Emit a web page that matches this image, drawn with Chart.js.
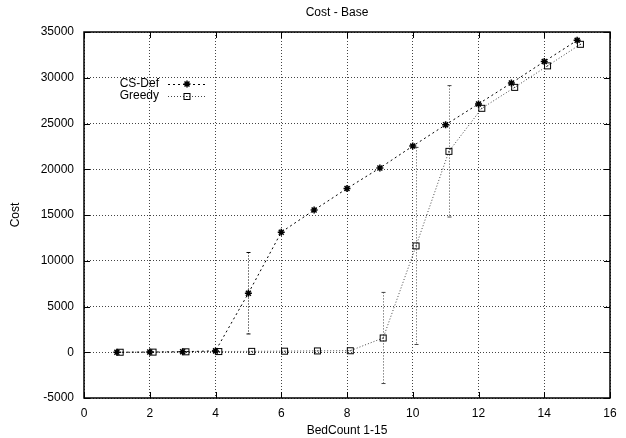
<!DOCTYPE html>
<html>
<head>
<meta charset="utf-8">
<script src="https://cdn.jsdelivr.net/npm/chart.js@4.4.0/dist/chart.umd.min.js"></script>
<style>
	html, body { margin: 0; padding: 0; background: #fff; }
</style>
</head>
<body>
<canvas id="chart" width="626" height="438"></canvas>
<script>
// data
const bedCounts = [1, 2, 3, 4, 5, 6, 7, 8, 9, 10, 11, 12, 13, 14, 15];
const greedyX = [1.1, 2.1, 3.1, 4.1, 5.1, 6.1, 7.1, 8.1, 9.1, 10.1, 11.1, 12.1, 13.1, 14.1, 15.1];
const csDefCost = [0, 20, 60, 150, 6450, 13120, 15540, 17900, 20140, 22530, 24860, 27140, 29420, 31770, 34090];
const csDefErr = [0, 0, 0, 0, 4450, 0, 0, 0, 0, 0, 0, 0, 0, 0, 0];
const greedyCost = [0, 20, 50, 80, 100, 120, 150, 170, 1560, 11620, 21960, 26660, 28950, 31300, 33660];
const greedyErr = [0, 0, 0, 0, 0, 0, 0, 0, 4980, 10770, 7180, 0, 0, 0, 0];

const FONT = { family: '"Liberation Sans", Arial, sans-serif', size: 12 };

// square with a dot in the middle (gnuplot point type 4-ish)
const boxPoint = (() => {
	const c = document.createElement('canvas');
	c.width = 9;
	c.height = 9;
	const g = c.getContext('2d');
	g.strokeStyle = '#000';
	g.lineWidth = 1;
	g.strokeRect(1.5, 1.5, 6, 6);
	g.fillStyle = '#000';
	g.fillRect(4, 4, 1, 1);
	return c;
})();

function _drawStar(ctx, x, y, r) {
	ctx.save();
	ctx.setLineDash([]);
	ctx.strokeStyle = '#000';
	ctx.lineWidth = 1.5;
	ctx.beginPath();
	ctx.moveTo(x - r, y); ctx.lineTo(x + r, y);
	ctx.moveTo(x, y - r); ctx.lineTo(x, y + r);
	const d = r * Math.SQRT1_2;
	ctx.moveTo(x - d, y - d); ctx.lineTo(x + d, y + d);
	ctx.moveTo(x - d, y + d); ctx.lineTo(x + d, y - d);
	ctx.stroke();
	ctx.restore();
}

const gnuplotLook = {
	id: 'gnuplotLook',
	beforeDatasetsDraw(chart) {
		// error bars
		const ctx = chart.ctx;
		const xs = chart.scales.x, ys = chart.scales.y;
		chart.data.datasets.forEach((ds) => {
			if (!ds.errors) return;
			ctx.save();
			ctx.strokeStyle = ds.borderColor;
			ctx.lineWidth = 1;
			ctx.setLineDash([1, 2]);
			ds.data.forEach((p, i) => {
				const e = ds.errors[i];
				if (!e) return;
				const px = Math.round(xs.getPixelForValue(p.x)) + 0.5;
				const top = ys.getPixelForValue(p.y + e);
				const bot = ys.getPixelForValue(p.y - e);
				ctx.beginPath();
				ctx.moveTo(px, top); ctx.lineTo(px, bot);
				ctx.stroke();
				ctx.setLineDash([]);
				ctx.beginPath();
				ctx.moveTo(px - 2, top); ctx.lineTo(px + 2, top);
				ctx.moveTo(px - 2, bot); ctx.lineTo(px + 2, bot);
				ctx.stroke();
				ctx.setLineDash([1, 2]);
			});
			ctx.restore();
		});
	},
	afterDraw(chart) {
		const ctx = chart.ctx;
		const a = chart.chartArea;
		const xs = chart.scales.x, ys = chart.scales.y;

		ctx.save();
		// frame
		ctx.strokeStyle = '#000';
		ctx.lineWidth = 1.5;
		ctx.setLineDash([]);
		ctx.strokeRect(a.left, a.top, a.right - a.left, a.bottom - a.top);

		// inward mirrored ticks
		ctx.lineWidth = 1;
		ctx.beginPath();
		xs.ticks.forEach((t) => {
			const px = Math.round(xs.getPixelForValue(t.value)) + 0.5;
			ctx.moveTo(px, a.bottom); ctx.lineTo(px, a.bottom - 6);
			ctx.moveTo(px, a.top); ctx.lineTo(px, a.top + 6);
		});
		ys.ticks.forEach((t) => {
			const py = Math.round(ys.getPixelForValue(t.value)) + 0.5;
			ctx.moveTo(a.left, py); ctx.lineTo(a.left + 6, py);
			ctx.moveTo(a.right, py); ctx.lineTo(a.right - 6, py);
		});
		ctx.stroke();

		// title
		ctx.fillStyle = '#000';
		ctx.font = `${FONT.size}px ${FONT.family}`;
		ctx.textAlign = 'center';
		ctx.textBaseline = 'middle';
		ctx.fillText('Cost - Base', 337, 13);

		// legend (key) inside the plot, top-left
		ctx.textAlign = 'right';
		chart.data.datasets.forEach((ds, i) => {
			const y = 84 + i * 12;
			ctx.fillStyle = '#000';
			ctx.fillText(ds.label, 159, y);
			ctx.strokeStyle = ds.borderColor;
			ctx.lineWidth = 1;
			ctx.setLineDash(ds.borderDash);
			ctx.beginPath();
			ctx.moveTo(168, y + 0.5); ctx.lineTo(206, y + 0.5);
			ctx.stroke();
			if (ds.pointStyle === 'star') {
				_drawStar(ctx, 187, y, 3.5);
			} else {
				ctx.drawImage(ds.pointStyle, 187 - 4.5, y - 4.5 + 0.5);
			}
		});
		ctx.restore();
	}
};

const ctx = document.getElementById('chart').getContext('2d');
new Chart(ctx, {
	type: 'scatter',
	data: {
		datasets: [
			{
				label: 'CS-Def',
				data: bedCounts.map((x, i) => ({ x: x, y: csDefCost[i] })),
				errors: csDefErr,
				showLine: true,
				borderColor: '#000',
				borderWidth: 1,
				borderDash: [2, 3],
				pointStyle: 'star',
				pointRadius: 3.5,
				pointBorderWidth: 1.5,
				pointBorderColor: '#000',
				pointBackgroundColor: '#000',
				tension: 0
			},
			{
				label: 'Greedy',
				data: greedyX.map((x, i) => ({ x: x, y: greedyCost[i] })),
				errors: greedyErr,
				showLine: true,
				borderColor: '#444',
				borderWidth: 1,
				borderDash: [1, 2],
				pointStyle: boxPoint,
				pointRadius: 4.5,
				tension: 0
			}
		]
	},
	options: {
		responsive: false,
		animation: false,
		devicePixelRatio: 1,
		layout: { padding: { top: 32, right: 16, left: 0, bottom: 0 } },
		plugins: {
			legend: { display: false },
			tooltip: { enabled: false },
			title: { display: false }
		},
		scales: {
			x: {
				type: 'linear',
				min: 0,
				max: 16,
				afterFit: (s) => { s.height = 40; },
				ticks: { stepSize: 2, color: '#000', font: FONT, padding: 8, maxRotation: 0, callback: (v) => String(v) },
				grid: { color: '#444', lineWidth: 1, drawTicks: false },
				border: { display: false, dash: [1, 2] },
				title: { display: true, text: 'BedCount 1-15', color: '#000', font: FONT, padding: { top: 0, bottom: 0 } }
			},
			y: {
				type: 'linear',
				min: -5000,
				max: 35000,
				afterFit: (s) => { s.width = 84; },
				ticks: { stepSize: 5000, color: '#000', font: FONT, padding: 10, callback: (v) => String(v) },
				grid: { color: '#444', lineWidth: 1, drawTicks: false },
				border: { display: false, dash: [1, 2] },
				title: { display: true, text: 'Cost', color: '#000', font: FONT, padding: { top: 8, bottom: 0 } }
			}
		}
	},
	plugins: [gnuplotLook]
});
</script>
</body>
</html>
